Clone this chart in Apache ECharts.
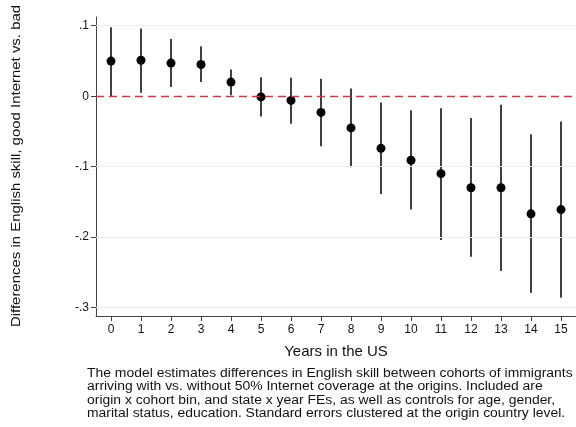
<!DOCTYPE html>
<html>
<head>
<meta charset="utf-8">
<script src="https://cdn.jsdelivr.net/npm/echarts@6/dist/echarts.min.js"></script>
<style>
  html, body { margin: 0; padding: 0; background: #fff; }
  #chart { width: 576px; height: 427px; }
</style>
</head>
<body>
<div id="chart"></div>
<script>
// Years since arrival and the estimated differences with their confidence bounds
const years = [0, 1, 2, 3, 4, 5, 6, 7, 8, 9, 10, 11, 12, 13, 14, 15];
const estimates = [0.0498, 0.051, 0.047, 0.045, 0.020, -0.001, -0.006, -0.023, -0.045, -0.074, -0.091, -0.110, -0.130, -0.130, -0.167, -0.161];
const ciUpper = [0.098, 0.096, 0.081, 0.071, 0.038, 0.027, 0.026, 0.0246, 0.011, -0.009, -0.020, -0.017, -0.031, -0.012, -0.054, -0.036];
const ciLower = [0.000, 0.005, 0.013, 0.020, 0.0015, -0.029, -0.039, -0.071, -0.101, -0.139, -0.161, -0.204, -0.228, -0.248, -0.279, -0.286];
const yTicks = [0.1, 0, -0.1, -0.2, -0.3];

const FONT = '"Liberation Sans", Arial, sans-serif';
const noteLines = [
  'The model estimates differences in English skill between cohorts of immigrants',
  'arriving with vs. without 50% Internet coverage at the origins. Included are',
  'origin x cohort bin, and state x year FEs, as well as controls for age, gender,',
  'marital status, education. Standard errors clustered at the origin country level.'
];

function fmtTick(v) {
  const r = Math.round(v * 10) / 10;
  if (r === 0) return '0';
  return String(r).replace('0.', '.');
}

const chart = echarts.init(document.getElementById('chart'), null, { renderer: 'canvas' });

chart.setOption({
  animation: false,
  backgroundColor: '#ffffff',
  textStyle: { fontFamily: FONT },
  grid: { left: 96, right: -1, top: 17, bottom: 111 },
  xAxis: {
    type: 'value',
    min: -0.5,
    max: 15.5,
    name: 'Years in the US',
    nameLocation: 'middle',
    nameGap: 28,
    nameTextStyle: { fontFamily: FONT, fontSize: 15, color: '#111' },
    axisLine: { show: true, onZero: false, lineStyle: { color: '#444', width: 1 } },
    axisTick: { show: true, length: 5, customValues: years, lineStyle: { color: '#444' } },
    axisLabel: { customValues: years, fontFamily: FONT, fontSize: 12, color: '#111', margin: 8 },
    splitLine: { show: false }
  },
  yAxis: {
    type: 'value',
    min: -0.312,
    max: 0.1124,
    axisLine: { show: true, onZero: false, lineStyle: { color: '#444', width: 1 } },
    axisTick: { show: true, length: 5, customValues: yTicks, lineStyle: { color: '#444' } },
    axisLabel: { customValues: yTicks, formatter: fmtTick, fontFamily: FONT, fontSize: 12, color: '#111', margin: 7 },
    splitLine: { show: false }
  },
  graphic: [
    {
      type: 'text',
      x: 16,
      y: 166,
      rotation: Math.PI / 2,
      scaleX: 1.15,
      style: {
        text: 'Differences in English skill, good Internet vs. bad',
        font: '13px ' + FONT,
        fill: '#111',
        align: 'center',
        verticalAlign: 'middle'
      }
    },
    {
      type: 'text',
      x: 87,
      y: 367,
      scaleX: 1.16,
      style: {
        text: noteLines.join('\n'),
        font: '12px ' + FONT,
        fill: '#111',
        lineHeight: 13.4
      }
    }
  ],
  series: [
    {
      // horizontal grid lines at the labelled values
      type: 'line',
      data: [],
      silent: true,
      markLine: {
        silent: true,
        symbol: 'none',
        label: { show: false },
        lineStyle: { type: 'solid', color: '#eaf0f0', width: 1 },
        data: yTicks.filter(v => v !== 0).map(v => ({ yAxis: v }))
      }
    },
    {
      // confidence intervals
      type: 'custom',
      data: years.map((x, i) => [x, ciLower[i], ciUpper[i]]),
      renderItem: function (params, api) {
        const lo = api.coord([api.value(0), api.value(1)]);
        const hi = api.coord([api.value(0), api.value(2)]);
        return {
          type: 'line',
          shape: { x1: lo[0], y1: lo[1], x2: hi[0], y2: hi[1] },
          style: { stroke: '#000', lineWidth: 1.5 }
        };
      },
      z: 3
    },
    {
      type: 'scatter',
      data: years.map((x, i) => [x, estimates[i]]),
      symbol: 'circle',
      symbolSize: 9,
      itemStyle: { color: '#000', opacity: 1 },
      z: 4,
      markLine: {
        silent: true,
        symbol: 'none',
        label: { show: false },
        lineStyle: { type: [8, 5], color: '#d0384a', width: 1.3 },
        data: [{ yAxis: 0 }]
      }
    }
  ]
});
</script>
</body>
</html>
